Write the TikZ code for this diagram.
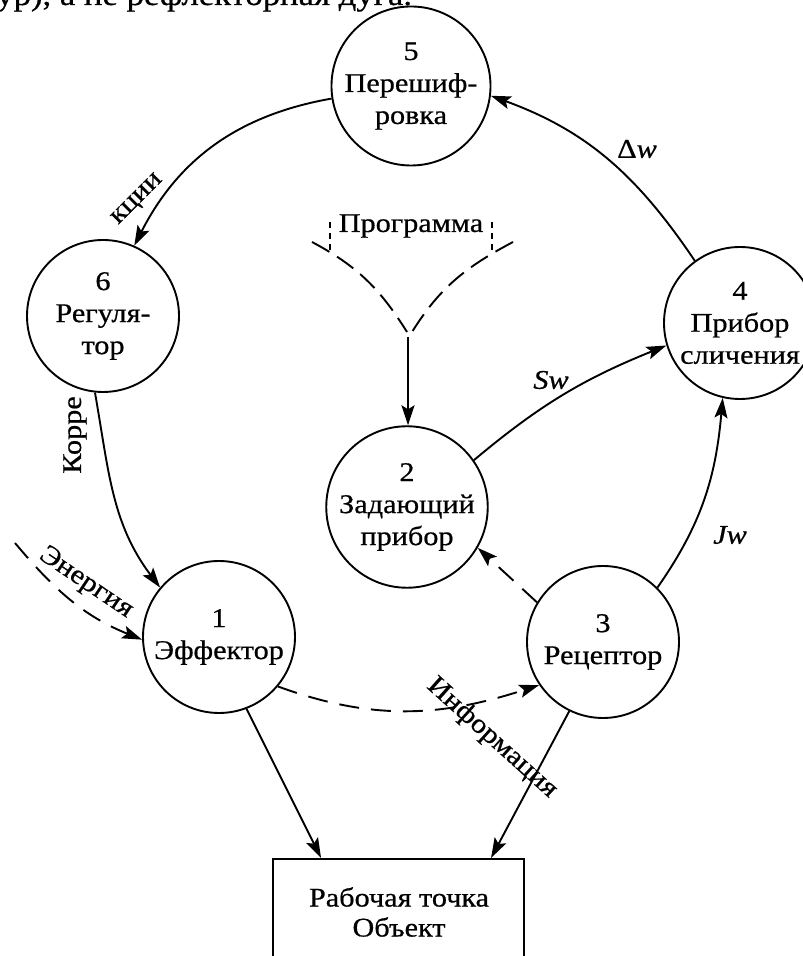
\documentclass[tikz,border=0pt]{standalone}
\usepackage{fontspec}
\setmainfont{Liberation Serif}[FakeStretch=1.12,FakeBold=0.6]
\usetikzlibrary{arrows.meta}
\begin{document}
\begin{tikzpicture}[x=1pt,y=1pt,
  every path/.style={line width=1.9pt},
  >={Stealth[length=20pt,width=13pt,inset=4pt]},
  circ/.style={draw,circle,minimum size=152pt,inner sep=0pt,align=center,
    font=\fontsize{27}{32}\selectfont},
  lbl/.style={font=\fontsize{27}{30}\selectfont,inner sep=0pt},
  dsh/.style={dash pattern=on 20pt off 12pt}]
\useasboundingbox (0,0) rectangle (803,956);
% top cut-off text line
\node[anchor=base east,inner sep=0pt,font=\fontsize{31}{36}\selectfont] (toptext) at (413,951) {нтур), а не рефлекторная дуга.};
% nodes
\node[circ] (n5) at (411,870) {5\\Перешиф-\\ровка};
\node[circ] (n6) at (103,640) {6\\Регуля-\\тор};
\node[circ] (n1) at (219,319) {1\\Эффектор};
\node[circ] (n2) at (407,449) {2\\Задающий\\прибор};
\node[circ] (n3) at (603,314) {3\\Рецептор};
\node[circ] (n4) at (740,633) {4\\Прибор\\сличения};
\node[draw,minimum width=251pt,minimum height=130pt,inner sep=0pt,anchor=north] (obj) at (398.5,98) {};
\node[lbl,align=center] (objtext) at (399,44) {Рабочая точка\\Объект};
% connectors
\draw[->] (n5.189) to[out=190,in=63] (n6.66);
\draw[->] (n6.264) to[out=280,in=127] (n1.140);
\coordinate (en) at (15,413);
\draw[dsh,->] (en) to[out=-50,in=158] (n1.182);
\draw[dsh,->] (n1.-40) to[out=-20,in=198] (n3.214);
\draw[dsh,->] (n3.149) -- (n2.-30);
\draw[->] (n3.45) to[out=55,in=265] (n4.257);
\draw[->] (n2.35) to[out=40,in=202] (n4.197);
\draw[->] (n4.126) to[out=124,in=-20] (n5.-7);
\draw[->] (n1.-69) -- ([xshift=49pt]obj.north west);
\draw[->] (n3.-116) -- ([xshift=219pt]obj.north west);
% programme input
\coordinate (pl) at (312,714);
\coordinate (pr) at (513,714);
\coordinate (pjl) at (407,624);
\coordinate (pjr) at (412,624);
\coordinate (pj) at (408,619);
\draw[dash pattern=on 20pt off 9pt] (pl) to[out=-28,in=122] (pjl);
\draw[dash pattern=on 20pt off 9pt] (pr) to[out=208,in=58] (pjr);
\coordinate (tl1) at (330,734);
\coordinate (tl2) at (330,702);
\coordinate (tr1) at (492,734);
\coordinate (tr2) at (492,702);
\draw[line width=1.5pt,dash pattern=on 6pt off 5pt] (tl1) -- (tl2);
\draw[line width=1.5pt,dash pattern=on 6pt off 5pt] (tr1) -- (tr2);
\draw[->] (pj) -- (pj |- n2.north);
% labels
\node[lbl] (lprog) at (411,730) {Программа};
\node[lbl,rotate=45] (lkcii) at (138,756) {кции};
\node[lbl,rotate=90] (lkorre) at (75,521) {Корре};
\node[lbl,rotate=-34] (lenerg) at (86,373) {Энергия};
\node[lbl,rotate=-42] (linfo) at (492,218) {Информация};
\node[lbl] (ljw) at (730,421) {\textit{Jw}};
\node[lbl] (lsw) at (551,576) {\textit{Sw}};
\node[lbl] (ldw) at (637,807) {Δ\textit{w}};
\end{tikzpicture}
\end{document}
